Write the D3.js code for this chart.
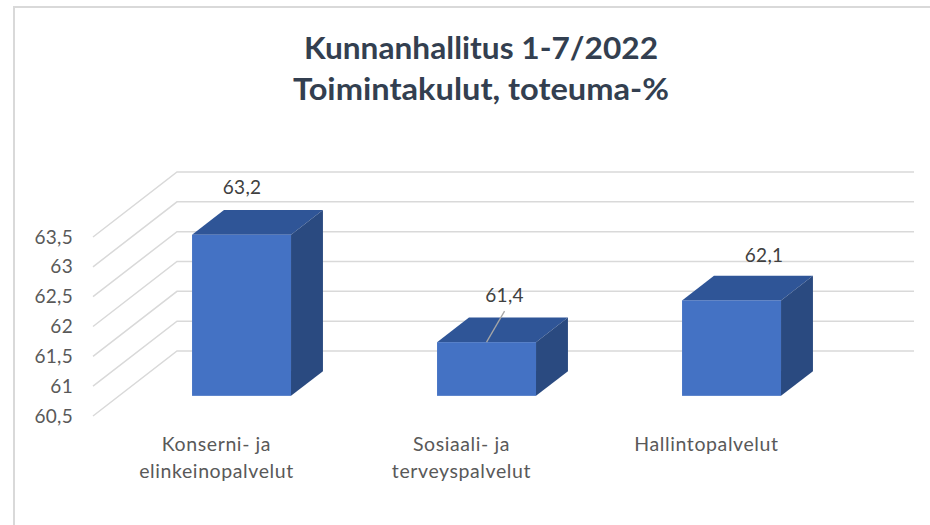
<!DOCTYPE html>
<html>
<head>
<meta charset="utf-8">
<script src="https://cdn.jsdelivr.net/npm/d3@7"></script>
<style>
    html, body { margin: 0; padding: 0; background: #fff; }
    svg { display: block; }
    text { font-family: Lato, "Open Sans", sans-serif; }
</style>
</head>
<body>
<div id="chart"></div>
<script>
const titleLines = ["Kunnanhallitus 1-7/2022", "Toimintakulut, toteuma-%"]
const categories = [["Konserni- ja", "elinkeinopalvelut"], ["Sosiaali- ja", "terveyspalvelut"], ["Hallintopalvelut"]]
const values = [63.2, 61.4, 62.1]
const valueLabels = ["63,2", "61,4", "62,1"]
const yTicks = [60.5, 61, 61.5, 62, 62.5, 63, 63.5]
const yTickLabels = ["60,5", "61", "61,5", "62", "62,5", "63", "63,5"]

const width = 930, height = 525

// depth of the 3d box: how far the back wall is moved from the front plane
const depth = {dx: 84, dy: -65}
const barDepth = {from: 0.31, to: 0.69}

const svg = d3.select("#chart").append("svg")
    .attr("width", width)
    .attr("height", height)

// chart frame
svg.append("path")
    .attr("d", "M14,525V7H930")
    .attr("fill", "none")
    .attr("stroke", "#d9d9d9")
    .attr("stroke-width", 2)

// Scales, both on the front plane
const x = d3.scaleBand()
    .domain(d3.range(categories.length))
    .range([93, 828])
    .paddingInner(0.596)
    .paddingOuter(0.298)

const y = d3.scaleLinear()
    .domain([60.5, 63.5])
    .range([416, 237])

const px = (v, t) => v + depth.dx * t
const py = (v, t) => v + depth.dy * t

// Title, Lato is wider in the bowl than the original so the lengths are forced
const titleLengths = [354, 376]

svg.append("g").selectAll("text")
    .data(titleLines)
    .enter().append("text")
    .attr("x", 481)
    .attr("y", (d, i) => 59 + i * 41)
    .attr("text-anchor", "middle")
    .attr("font-size", 30)
    .attr("font-weight", 700)
    .attr("fill", "#333f50")
    .attr("textLength", (d, i) => titleLengths[i])
    .attr("lengthAdjust", "spacingAndGlyphs")
    .text(d => d)

// Gridlines: side wall then back wall
svg.append("g").selectAll("path")
    .data(yTicks)
    .enter().append("path")
    .attr("d", d => `M${px(93, 0)},${y(d)}L${px(93, 1)},${py(y(d), 1)}H914`)
    .attr("fill", "none")
    .attr("stroke", "#d9d9d9")
    .attr("stroke-width", 1.5)

// Axis labels
svg.append("g").selectAll("text")
    .data(yTicks)
    .enter().append("text")
    .attr("x", 73)
    .attr("y", d => y(d) + 6.5)
    .attr("text-anchor", "end")
    .attr("font-size", 19)
    .attr("letter-spacing", 0.3)
    .attr("fill", "#595959")
    .text((d, i) => yTickLabels[i])

// Bars
const bars = svg.append("g").selectAll("g")
    .data(values)
    .enter().append("g")

const x0 = i => px(x(i), barDepth.from)
const x1 = i => x0(i) + x.bandwidth()
const yBase = py(y(60.5), barDepth.from)
const yTop = d => yBase - (y(60.5) - y(d))
const sideX = depth.dx * (barDepth.to - barDepth.from)
const sideY = depth.dy * (barDepth.to - barDepth.from)

bars.append("path")
    .attr("fill", "#2f5597")
    .attr("d", (d, i) => `M${x0(i)},${yTop(d)}l${sideX},${sideY}h${x.bandwidth()}l${-sideX},${-sideY}Z`)

bars.append("path")
    .attr("fill", "#2a4a80")
    .attr("d", (d, i) => `M${x1(i)},${yTop(d)}l${sideX},${sideY}V${yBase + sideY}L${x1(i)},${yBase}Z`)

bars.append("rect")
    .attr("fill", "#4472c4")
    .attr("x", (d, i) => x0(i))
    .attr("y", d => yTop(d))
    .attr("width", x.bandwidth())
    .attr("height", d => yBase - yTop(d))

// Data labels, the middle one has a leader line down to its bar
const labelOffsets = [{dx: 0.5, dy: -41}, {dx: 18, dy: -40}, {dx: 32.5, dy: -38}]

svg.append("line")
    .attr("x1", x0(1) + x.bandwidth() / 2)
    .attr("y1", yTop(values[1]))
    .attr("x2", x0(1) + x.bandwidth() / 2 + 18)
    .attr("y2", yTop(values[1]) - 31)
    .attr("stroke", "#a6a6a6")
    .attr("stroke-width", 1.3)

svg.append("g").selectAll("text")
    .data(values)
    .enter().append("text")
    .attr("x", (d, i) => x0(i) + x.bandwidth() / 2 + labelOffsets[i].dx)
    .attr("y", (d, i) => yTop(d) + labelOffsets[i].dy)
    .attr("text-anchor", "middle")
    .attr("font-size", 19)
    .attr("letter-spacing", 0.3)
    .attr("fill", "#404040")
    .text((d, i) => valueLabels[i])

// Category labels
const catLabels = svg.append("g").selectAll("text")
    .data(categories)
    .enter().append("text")
    .attr("text-anchor", "middle")
    .attr("font-size", 19.5)
    .attr("letter-spacing", 0.6)
    .attr("fill", "#595959")

catLabels.selectAll("tspan")
    .data((d, i) => d.map(line => ({line, i})))
    .enter().append("tspan")
    .attr("x", d => x(d.i) + x.bandwidth() / 2 + 1)
    .attr("y", (d, j) => 451 + j * 27)
    .text(d => d.line)
</script>
</body>
</html>
